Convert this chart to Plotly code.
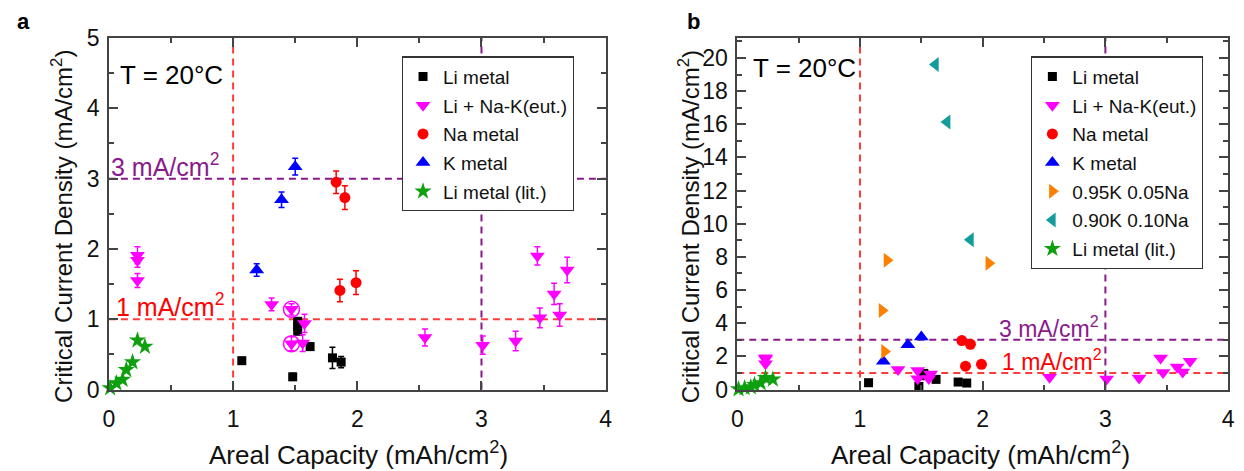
import plotly.graph_objects as go

# ---------------- data ----------------
li_x = [1.07, 1.48, 1.52, 1.52, 1.52, 1.62, 1.80, 1.87]
li_y = [0.41, 0.18, 0.97, 0.90, 0.83, 0.61, 0.45, 0.39]
li_err = [0.04, 0.05, 0.05, 0.05, 0.05, 0.05, 0.15, 0.08]

eut_x = [0.23, 0.23, 0.23, 1.31, 1.47, 1.575, 1.47, 1.56, 2.545, 3.01, 3.275, 3.45, 3.47, 3.585, 3.63, 3.69]
eut_y = [1.91, 1.84, 1.55, 1.21, 1.14, 0.94, 0.65, 0.66, 0.74, 0.63, 0.69, 1.90, 1.02, 1.36, 1.06, 1.70]
eut_err = [0.12, 0.10, 0.10, 0.09, 0.08, 0.13, 0.10, 0.12, 0.12, 0.13, 0.14, 0.13, 0.14, 0.15, 0.16, 0.18]

circ_x = [1.47, 1.47]
circ_y = [1.14, 0.65]

na_x = [1.83, 1.90, 1.86, 1.99]
na_y = [2.95, 2.73, 1.41, 1.52]
na_err = [0.16, 0.17, 0.16, 0.17]

k_x = [1.50, 1.39, 1.19]
k_y = [3.17, 2.70, 1.70]
k_err = [0.12, 0.11, 0.09]

k95_x = [1.18, 1.20, 1.22, 2.05]
k95_y = [4.76, 2.29, 7.80, 7.62]

k90_x = [1.615, 1.71, 1.90]
k90_y = [19.6, 16.13, 9.04]

lit_x = [0.01, 0.06, 0.11, 0.14, 0.19, 0.23, 0.29]
lit_y = [0.02, 0.09, 0.14, 0.28, 0.39, 0.70, 0.61]

x_ticks = [0, 1, 2, 3, 4]
ya_ticks = [0, 1, 2, 3, 4, 5]
yb_ticks = [0, 2, 4, 6, 8, 10, 12, 14, 16, 18, 20]

# ---------------- styles ----------------
FONT = "Liberation Sans, Arial, sans-serif"
C_BLACK = "#000000"
C_MAG = "#ff00ff"
C_RED = "#ff0000"
C_BLUE = "#0000ff"
C_ORANGE = "#ff8000"
C_TEAL = "#129c9c"
C_GREEN = "#0ea00e"
C_LRED = "#ff3b3b"
C_PURP = "#8a1a8a"
AX = "#444444"

W, H = 1244, 471
xa_dom = [104 / W, 606 / W]
xb_dom = [739 / W, 1235 / W]
y_dom = [(H - 398.5) / H, (H - 26.5) / H]

fig = go.Figure()


def add(x, y, name, symbol, color, size, xa, ya, legend, err=None, group=""):
    kw = {}
    if err is not None:
        kw["error_y"] = dict(type="data", array=err, visible=True, color=color,
                             thickness=1.5, width=3)
    fig.add_trace(go.Scatter(
        x=x, y=y, mode="markers", name=name, xaxis=xa, yaxis=ya,
        legend=legend, legendgroup=group,
        marker=dict(symbol=symbol, color=color, size=size, line=dict(width=0)),
        cliponaxis=False, **kw))


# left panel
add(li_x, li_y, "Li metal", "square", C_BLACK, 9, "x", "y", "legend", li_err, "a1")
add(eut_x, eut_y, "Li + Na-K(eut.)", "triangle-down", C_MAG, 13, "x", "y", "legend", eut_err, "a2")
fig.add_trace(go.Scatter(x=circ_x, y=circ_y, mode="markers", xaxis="x", yaxis="y",
                         showlegend=False, cliponaxis=False,
                         marker=dict(symbol="circle-open", size=16, color=C_MAG,
                                     line=dict(width=1.5, color=C_MAG))))
add(na_x, na_y, "Na metal", "circle", C_RED, 11, "x", "y", "legend", na_err, "a3")
add(k_x, k_y, "K metal", "triangle-up", C_BLUE, 13, "x", "y", "legend", k_err, "a4")
add(lit_x, lit_y, "Li metal (lit.)", "star", C_GREEN, 13, "x", "y", "legend", None, "a5")

# right panel
add(li_x, li_y, "Li metal", "square", C_BLACK, 9, "x2", "y2", "legend2", None, "b1")
add(eut_x, eut_y, "Li + Na-K(eut.)", "triangle-down", C_MAG, 13, "x2", "y2", "legend2", None, "b2")
add(na_x, na_y, "Na metal", "circle", C_RED, 11, "x2", "y2", "legend2", None, "b3")
add(k_x, k_y, "K metal", "triangle-up", C_BLUE, 13, "x2", "y2", "legend2", None, "b4")
add(k95_x, k95_y, "0.95K 0.05Na", "triangle-right", C_ORANGE, 13, "x2", "y2", "legend2", None, "b5")
add(k90_x, k90_y, "0.90K 0.10Na", "triangle-left", C_TEAL, 13, "x2", "y2", "legend2", None, "b6")
add(lit_x, lit_y, "Li metal (lit.)", "star", C_GREEN, 13, "x2", "y2", "legend2", None, "b7")

axis_common = dict(showline=True, linecolor=AX, linewidth=1.5, mirror="ticks",
                   ticks="inside", ticklen=9, tickwidth=1.5, tickcolor=AX,
                   showgrid=False, zeroline=False,
                   tickfont=dict(family=FONT, size=23, color="#111111"))

fig.update_layout(
    width=W, height=H,
    margin=dict(l=0, r=0, t=0, b=0),
    paper_bgcolor="white", plot_bgcolor="white",
    font=dict(family=FONT, color="#111111"),
    xaxis=dict(domain=xa_dom, range=[0, 4], anchor="y", tickvals=x_ticks,
               ticklabelstandoff=8,
               minor=dict(ticks="inside", dtick=0.5, ticklen=5, tickcolor=AX, tickwidth=1.5),
               **axis_common),
    yaxis=dict(domain=y_dom, range=[0, 5], anchor="x", tickvals=ya_ticks,
               ticklabelstandoff=3,
               minor=dict(ticks="inside", dtick=0.5, ticklen=5, tickcolor=AX, tickwidth=1.5),
               **axis_common),
    xaxis2=dict(domain=xb_dom, range=[0, 4], anchor="y2", tickvals=x_ticks,
                ticklabelstandoff=8,
                minor=dict(ticks="inside", dtick=0.5, ticklen=5, tickcolor=AX, tickwidth=1.5),
                **axis_common),
    yaxis2=dict(domain=y_dom, range=[0, 21.2], anchor="x2", tickvals=yb_ticks,
                ticklabelstandoff=3,
                minor=dict(ticks="inside", dtick=1, ticklen=5, tickcolor=AX, tickwidth=1.5),
                **axis_common),
    legend=dict(x=400 / W, y=1 - 46 / H, xanchor="left", yanchor="top",
                bgcolor="white", bordercolor="#333333", borderwidth=1.2,
                font=dict(family=FONT, size=19, color="#111111"),
                tracegroupgap=1, itemwidth=30),
    legend2=dict(x=1036 / W, y=1 - 46 / H, xanchor="left", yanchor="top",
                 bgcolor="white", bordercolor="#333333", borderwidth=1.2,
                 font=dict(family=FONT, size=19, color="#111111"),
                 tracegroupgap=1, itemwidth=30),
)

# reference lines
shapes = []
for xa, ya in (("x", "y"), ("x2", "y2")):
    for xv, col in ((1, C_LRED), (3, C_PURP)):
        shapes.append(dict(type="line", xref=xa, yref=ya + " domain", x0=xv, x1=xv, y0=0, y1=1,
                           line=dict(color=col, width=2, dash="7px,5px"), layer="below"))
    for yv, col in ((1, C_LRED), (3, C_PURP)):
        shapes.append(dict(type="line", xref=xa + " domain", yref=ya, x0=0, x1=1, y0=yv, y1=yv,
                           line=dict(color=col, width=2, dash="7px,5px"), layer="below"))
fig.update_layout(shapes=shapes)

ann = []
# panel letters
ann.append(dict(text="<b>a</b>", x=18 / W, y=1 - 9 / H, xref="paper", yref="paper",
                xanchor="center", yanchor="middle",
                showarrow=False, font=dict(family=FONT, size=22, color="black")))
ann.append(dict(text="<b>b</b>", x=695 / W, y=1 - 9 / H, xref="paper", yref="paper",
                xanchor="center", yanchor="middle",
                showarrow=False, font=dict(family=FONT, size=22, color="black")))
# T labels
ann.append(dict(text="T = 20°C", x=0.07, y=4.47, xref="x", yref="y", xanchor="left",
                showarrow=False, font=dict(family=FONT, size=26, color="black")))
ann.append(dict(text="T = 20°C", x=0.11, y=19.4, xref="x2", yref="y2", xanchor="left",
                showarrow=False, font=dict(family=FONT, size=26, color="black")))
# threshold labels
ann.append(dict(text="3 mA/cm<sup>2</sup>", x=0.0, y=3, xref="x", yref="y",
                xanchor="left", yanchor="bottom", yshift=-4, showarrow=False,
                font=dict(family=FONT, size=25, color=C_PURP)))
ann.append(dict(text="1 mA/cm<sup>2</sup>", x=0.04, y=1, xref="x", yref="y",
                xanchor="left", yanchor="bottom", yshift=-4, showarrow=False,
                font=dict(family=FONT, size=25, color=C_RED)))
ann.append(dict(text="3 mA/cm<sup>2</sup>", x=2.12, y=3, xref="x2", yref="y2",
                xanchor="left", yanchor="bottom", yshift=-4, showarrow=False,
                font=dict(family=FONT, size=23, color=C_PURP)))
ann.append(dict(text="1 mA/cm<sup>2</sup>", x=2.14, y=1, xref="x2", yref="y2",
                xanchor="left", yanchor="bottom", yshift=-4, showarrow=False,
                font=dict(family=FONT, size=23, color=C_RED)))
# axis titles
for cx in (56, 690):
    ann.append(dict(text="Critical Current Density (mA/cm<sup>2</sup>)", x=cx / W, y=1 - 226 / H,
                    xref="paper", yref="paper", xanchor="center", yanchor="middle",
                    textangle=-90, showarrow=False,
                    font=dict(family=FONT, size=24, color="#111111")))
for cx in (356, 985):
    ann.append(dict(text="Areal Capacity (mAh/cm<sup>2</sup>)", x=cx / W, y=1 - 466 / H,
                    xref="paper", yref="paper", xanchor="center", yanchor="middle",
                    showarrow=False,
                    font=dict(family=FONT, size=26, color="#111111")))
fig.update_layout(annotations=ann)

fig.write_html("out.html")
